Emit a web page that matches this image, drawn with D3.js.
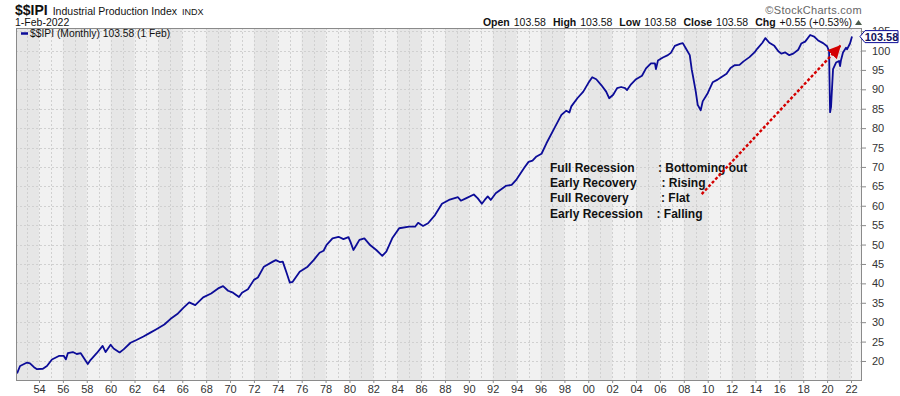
<!DOCTYPE html>
<html>
<head>
<meta charset="utf-8">
<style>
  body { margin: 0; background: #fff; }
  svg { display: block; font-family: "Liberation Sans", Arial, sans-serif; }
</style>
</head>
<body>
<script src="https://cdn.jsdelivr.net/npm/d3@7"></script>
<script>
// monthly readings of $$IPI taken off the chart
var months = [
  "1952-03","1952-06","1953-01","1953-04","1953-08","1953-11","1954-05","1954-09","1955-02","1955-09",
  "1956-02","1956-04","1956-06","1956-11","1957-03","1957-07","1958-02","1958-05","1958-11","1959-05",
  "1959-08","1960-01","1960-04","1960-10","1961-02","1961-09","1962-03","1962-10","1963-05","1963-11",
  "1964-07","1965-01","1965-08","1966-02","1966-08","1967-02","1967-10","1968-06","1969-01","1969-06",
  "1969-11","1970-04","1970-10","1971-01","1971-07","1972-01","1972-05","1972-11","1973-08","1973-11",
  "1974-03","1974-06","1974-10","1975-01","1975-04","1975-11","1976-07","1977-01","1977-07","1977-11",
  "1978-02","1978-08","1979-02","1979-07","1979-12","1980-02","1980-05","1980-08","1980-11","1981-04",
  "1981-10","1982-04","1982-10","1983-02","1983-08","1984-03","1985-01","1985-07","1985-10","1986-03",
  "1986-08","1987-03","1987-10","1988-05","1989-02","1989-05","1989-10","1990-06","1990-10","1991-02",
  "1991-05","1991-08","1991-11","1992-04","1993-02","1993-08","1994-01","1994-09","1995-01","1995-05",
  "1995-09","1996-02","1996-07","1997-03","1997-10","1998-03","1998-06","1998-08","1999-02","1999-08",
  "2000-01","2000-05","2000-09","2001-02","2001-07","2001-10","2002-02","2002-06","2002-10","2003-02",
  "2003-04","2003-08","2004-01","2004-07","2004-11","2005-04","2005-08","2005-09","2005-11","2006-04",
  "2006-09","2006-12","2007-04","2007-09","2007-12","2008-03","2008-07","2008-09","2008-10","2009-01",
  "2009-03","2009-06","2009-08","2010-01","2010-06","2010-11","2011-03","2011-08","2011-12","2012-04",
  "2012-09","2013-01","2013-07","2013-12","2014-03","2014-08","2014-11","2015-03","2015-08","2015-12",
  "2016-03","2016-07","2016-11","2017-03","2017-08","2017-11","2018-03","2018-08","2018-12","2019-04",
  "2019-09","2020-01","2020-03","2020-04","2020-05","2020-06","2020-07","2020-10","2021-01","2021-02",
  "2021-03","2021-05","2021-08","2021-09","2021-12","2022-02"
];
var ipi = [
  16.8,18.7,19.6,19.4,18.4,17.9,18.0,18.7,20.4,21.3,
  21.3,20.4,22.0,22.3,21.8,22.0,19.2,20.3,22.0,23.9,
  22.3,24.2,23.2,22.2,23.0,24.7,25.4,26.3,27.3,28.2,
  29.4,30.8,32.1,33.7,35.1,34.4,36.4,37.4,38.7,39.3,
  38.1,37.6,36.5,37.6,38.5,40.9,41.5,44.3,45.6,46.0,
  45.5,45.6,42.6,40.2,40.4,43.0,44.3,46.0,47.9,48.4,
  49.9,51.6,52.0,51.4,51.9,50.7,48.6,49.9,51.2,51.6,
  49.8,48.6,47.1,48.2,51.6,54.2,54.6,54.6,55.6,54.8,
  55.5,57.6,60.5,61.5,62.2,61.3,61.9,62.9,61.9,60.5,
  61.5,62.4,61.5,63.2,65.1,65.4,66.8,69.9,71.3,71.6,
  72.7,73.4,76.1,80.0,83.4,84.5,84.0,85.6,87.7,89.4,
  91.6,93.1,92.6,91.1,89.4,87.7,88.6,90.3,90.6,90.3,
  89.8,91.3,92.6,93.5,95.4,96.7,96.7,95.2,97.4,98.2,
  98.8,99.4,101.2,101.7,101.9,100.6,98.8,95.0,93.7,89.4,
  86.0,84.6,86.9,89.0,91.8,92.5,93.2,94.0,95.5,96.2,
  96.3,97.2,98.3,99.5,100.5,102.0,103.2,102.0,101.2,99.8,
  99.2,99.5,98.8,99.2,100.2,101.8,102.3,104.0,103.6,102.6,
  101.9,101.1,99.8,84.1,85.5,90.5,95.2,96.9,97.3,96.0,
  97.5,99.5,100.7,100.3,101.8,103.58
];

var yTicks = [20,25,30,35,40,45,50,55,60,65,70,75,80,85,90,95,100,105];
var xLabelYears = [1954,1956,1958,1960,1962,1964,1966,1968,1970,1972,1974,1976,1978,1980,1982,1984,1986,
  1988,1990,1992,1994,1996,1998,2000,2002,2004,2006,2008,2010,2012,2014,2016,2018,2020,2022];

var noteLabels = ["Full Recession", "Early Recovery", "Full Recovery", "Early Recession"];
var noteValues = ["Bottoming out", "Rising", "Flat", "Falling"];
var arrowFrom = ["2009-07", 63.0];
var arrowTo = ["2021-03", 101.4];

var ohlcLabels = ["Open", "High", "Low", "Close", "Chg"];
var ohlcValues = ["103.58", "103.58", "103.58", "103.58", "+0.55 (+0.53%)"];
var lastValue = 103.58;

var W = 900, H = 396;
var pLeft = 16, pRight = 862, pTop = 28, pBottom = 380;
var parse = d3.timeParse("%Y-%m");
var data = months.map(function(m, i) { return { date: parse(m), value: ipi[i] }; });

var x = d3.scaleTime().domain([new Date(1954, 0, 1), new Date(2022, 0, 1)]).range([39, 851]);
x.domain([x.invert(pLeft), x.invert(pRight)]).range([pLeft, pRight]);
var y = d3.scaleLinear().domain([15.1, 105.8]).range([pBottom, pTop]);

var svg = d3.select("body").append("svg").attr("width", W).attr("height", H);

var defs = svg.append("defs");
defs.append("clipPath").attr("id", "plot")
  .append("rect").attr("x", pLeft).attr("y", pTop).attr("width", pRight - pLeft).attr("height", pBottom - pTop);
var marker = defs.append("marker")
  .attr("id", "head").attr("viewBox", "0 0 10 10").attr("refX", 10).attr("refY", 5)
  .attr("markerWidth", 5.5).attr("markerHeight", 6).attr("markerUnits", "strokeWidth")
  .attr("orient", "auto");
marker.append("path").attr("d", "M0,0L10,5L0,10z").attr("fill", "#d40000");

var plot = svg.append("g").attr("clip-path", "url(#plot)");
plot.append("rect").attr("x", pLeft).attr("y", pTop).attr("width", pRight - pLeft).attr("height", pBottom - pTop)
  .attr("fill", "#f1f1f1");
// darker two-year bands
plot.selectAll("rect.band").data(d3.range(1952, 2024, 4)).enter().append("rect")
  .attr("class", "band")
  .attr("x", function(d) { return x(new Date(d, 0, 1)); })
  .attr("width", function(d) { return x(new Date(d + 2, 0, 1)) - x(new Date(d, 0, 1)); })
  .attr("y", pTop).attr("height", pBottom - pTop)
  .attr("fill", "#e6e6e6");

plot.selectAll("line.vg").data(d3.range(1953, 2023)).enter().append("line")
  .attr("x1", function(d) { return Math.round(x(new Date(d, 0, 1))) + 0.5; })
  .attr("x2", function(d) { return Math.round(x(new Date(d, 0, 1))) + 0.5; })
  .attr("y1", pTop).attr("y2", pBottom)
  .attr("stroke", "#d0d0d0").attr("stroke-width", 1).attr("stroke-dasharray", "2,2");
plot.selectAll("line.hg").data(yTicks).enter().append("line")
  .attr("x1", pLeft).attr("x2", pRight)
  .attr("y1", function(d) { return Math.round(y(d)) + 0.5; })
  .attr("y2", function(d) { return Math.round(y(d)) + 0.5; })
  .attr("stroke", "#d0d0d0").attr("stroke-width", 1).attr("stroke-dasharray", "2,2");

var line = d3.line().x(function(d) { return x(d.date); }).y(function(d) { return y(d.value); });
plot.append("path").datum(data).attr("d", line)
  .attr("fill", "none").attr("stroke", "#0c0c98").attr("stroke-width", 1.8)
  .attr("stroke-linejoin", "round");

// border
svg.append("rect").attr("x", pLeft + 0.5).attr("y", pTop + 0.5)
  .attr("width", pRight - pLeft - 1).attr("height", pBottom - pTop)
  .attr("fill", "none").attr("stroke", "#8a8a8a");

var yAxis = svg.append("g").attr("transform", "translate(" + pRight + ",0)")
  .call(d3.axisRight(y).tickValues(yTicks).tickSize(4).tickPadding(6));
yAxis.select(".domain").remove();
yAxis.selectAll("line").attr("stroke", "#8a8a8a");
yAxis.selectAll("text").attr("font-size", 11).attr("fill", "#333")
  .attr("font-family", "Liberation Sans, Arial, sans-serif");

var xAxis = svg.append("g").attr("transform", "translate(0," + pBottom + ")")
  .call(d3.axisBottom(x).tickValues(xLabelYears.map(function(d) { return new Date(d, 0, 1); }))
    .tickFormat(d3.timeFormat("%y")).tickSize(3).tickPadding(2));
xAxis.select(".domain").remove();
xAxis.selectAll("line").attr("stroke", "#8a8a8a");
xAxis.selectAll("text").attr("font-size", 11).attr("fill", "#333")
  .attr("font-family", "Liberation Sans, Arial, sans-serif");

// annotation text
var notes = svg.append("g").attr("font-weight", "bold").attr("font-size", 12).attr("fill", "#111");
var colonX = [658, 661.5, 661, 656.5];
noteLabels.forEach(function(t, i) {
  notes.append("text").attr("x", 550).attr("y", 172 + i * 15.2).text(t);
  notes.append("text").attr("x", colonX[i]).attr("y", 172 + i * 15.2).text(": " + noteValues[i]);
});

// red dashed arrow
svg.append("line")
  .attr("x1", x(parse(arrowFrom[0]))).attr("y1", y(arrowFrom[1]))
  .attr("x2", x(parse(arrowTo[0]))).attr("y2", y(arrowTo[1]))
  .attr("stroke", "#d40000").attr("stroke-width", 2.4).attr("stroke-dasharray", "3,2")
  .attr("marker-end", "url(#head)");

// last value tag
var ty = y(lastValue);
svg.append("path")
  .attr("d", "M860," + ty + "L865," + (ty - 6) + "H898V" + (ty + 6) + "H865Z")
  .attr("fill", "#fff").attr("stroke", "#0c0c98").attr("stroke-width", 1);
svg.append("text").attr("x", 881.5).attr("y", ty + 4).attr("text-anchor", "middle")
  .attr("font-size", 11).attr("font-weight", "bold").attr("fill", "#10105a").text(lastValue.toFixed(2));

// header
var title = svg.append("text").attr("x", 15).attr("y", 15).attr("fill", "#111");
title.append("tspan").attr("font-weight", "bold").attr("font-size", 14).text("$$IPI");
title.append("tspan").attr("dx", 5).attr("font-size", 10.5).text("Industrial Production Index");
title.append("tspan").attr("dx", 5).attr("font-size", 9).text("INDX");
svg.append("text").attr("x", 15).attr("y", 26).attr("font-size", 10.5).attr("fill", "#111").text("1-Feb-2022");

svg.append("line").attr("x1", 21).attr("x2", 28).attr("y1", 33.5).attr("y2", 33.5)
  .attr("stroke", "#0c0c98").attr("stroke-width", 2.5);
svg.append("text").attr("x", 30).attr("y", 37).attr("font-size", 10.3).attr("fill", "#111")
  .text("$$IPI (Monthly) " + lastValue.toFixed(2) + " (1 Feb)");

svg.append("text").attr("x", 862).attr("y", 14).attr("text-anchor", "end")
  .attr("font-size", 11).attr("fill", "#666").attr("letter-spacing", 0.3).text("\u00a9StockCharts.com");

var ohlc = svg.append("text").attr("x", 852).attr("y", 26).attr("text-anchor", "end")
  .attr("font-size", 10.5).attr("fill", "#111");
ohlcLabels.forEach(function(l, i) {
  ohlc.append("tspan").attr("dx", i ? 7 : 0).attr("font-weight", "bold").text(l);
  ohlc.append("tspan").attr("dx", 4).text(ohlcValues[i]);
});
svg.append("path").attr("d", "M855,25L858.5,20L862,25Z").attr("fill", "#4b5b4b");
</script>
</body>
</html>
